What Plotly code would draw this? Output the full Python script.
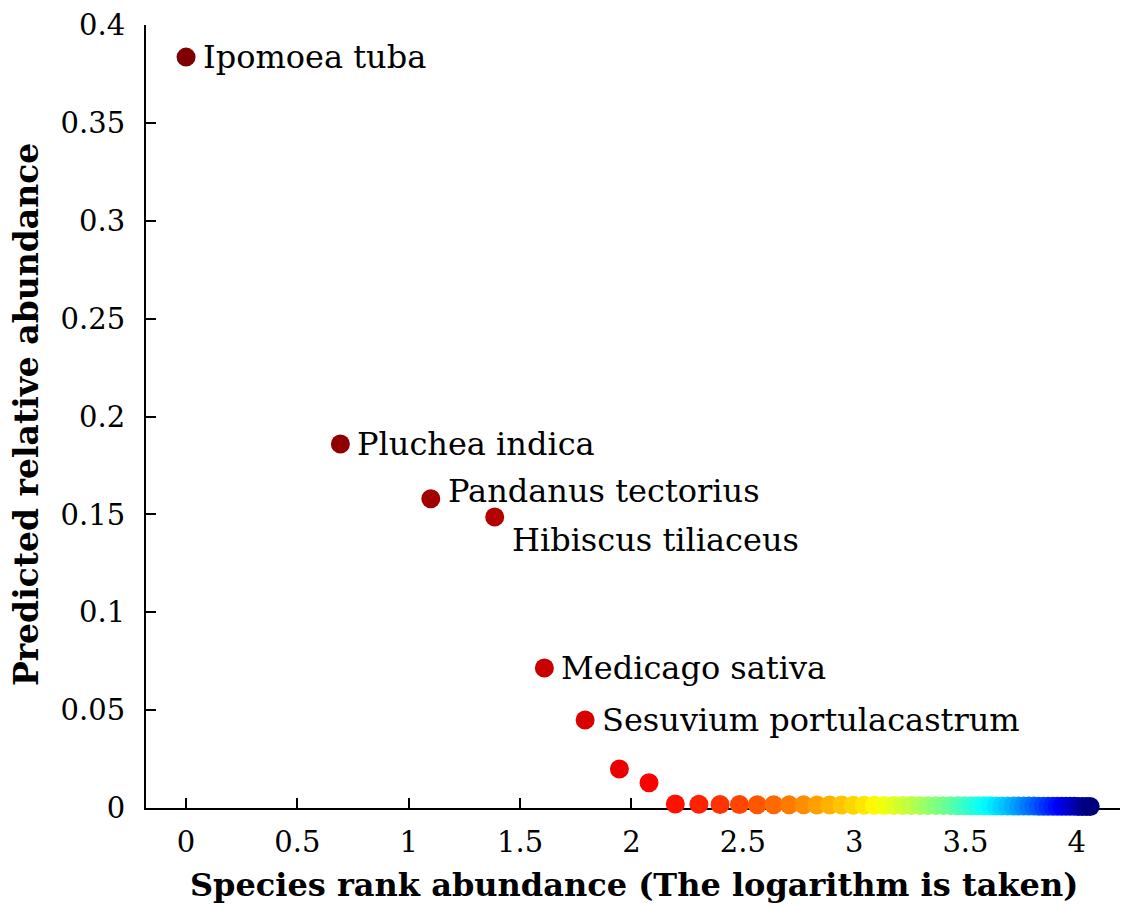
import plotly.graph_objects as go

# log(rank) for ranks 1..58
log_rank = [0.000, 0.693, 1.099, 1.386, 1.609, 1.792, 1.946, 2.079, 2.197, 2.303,
            2.398, 2.485, 2.565, 2.639, 2.708, 2.773, 2.833, 2.890, 2.944, 2.996,
            3.045, 3.091, 3.135, 3.178, 3.219, 3.258, 3.296, 3.332, 3.367, 3.401,
            3.434, 3.466, 3.497, 3.526, 3.555, 3.584, 3.611, 3.638, 3.664, 3.689,
            3.714, 3.738, 3.761, 3.784, 3.807, 3.829, 3.850, 3.871, 3.892, 3.912,
            3.932, 3.951, 3.970, 3.989, 4.007, 4.025, 4.043, 4.060]
rank = list(range(1, 59))
abundance = [0.3836, 0.1860, 0.1580, 0.1487, 0.0715, 0.0450, 0.0199, 0.0129,
             0.0020, 0.0019, 0.0018, 0.0018, 0.0017, 0.0017, 0.0016, 0.0016,
             0.0015, 0.0015, 0.0015, 0.0014, 0.0014, 0.0014, 0.0013, 0.0013,
             0.0013, 0.0013, 0.0012, 0.0012, 0.0012, 0.0012, 0.0012, 0.0011,
             0.0011, 0.0011, 0.0011, 0.0011, 0.0011, 0.0010, 0.0010, 0.0010,
             0.0010, 0.0010, 0.0010, 0.0010, 0.0010, 0.0009, 0.0009, 0.0009,
             0.0009, 0.0009, 0.0009, 0.0009, 0.0009, 0.0009, 0.0008, 0.0008,
             0.0008, 0.0008]
species = ["Ipomoea tuba", "Pluchea indica", "Pandanus tectorius", "Hibiscus tiliaceus",
           "Medicago sativa", "Sesuvium portulacastrum"]
label_dy = [0, 0, 8, -23, 0, 0]

jet = [[0.0, "rgb(0,0,127)"], [0.125, "rgb(0,0,255)"], [0.375, "rgb(0,255,255)"],
       [0.625, "rgb(255,255,0)"], [0.875, "rgb(255,0,0)"], [1.0, "rgb(127,0,0)"]]

fig = go.Figure()
fig.add_trace(go.Scatter(
    x=log_rank, y=abundance, mode="markers", cliponaxis=False,
    marker=dict(size=19, color=rank, colorscale=jet, reversescale=True,
                cmin=min(rank), cmax=max(rank), line=dict(width=0)),
    showlegend=False, hoverinfo="skip"))

serif = "DejaVu Serif"
for i, name in enumerate(species):
    fig.add_annotation(x=log_rank[i], y=abundance[i], text=name, showarrow=False,
                       xanchor="left", yanchor="middle", xshift=15, yshift=label_dy[i],
                       font=dict(family=serif, size=32, color="black"))

fig.add_annotation(x=0.497, y=-0.098, xref="paper", yref="paper", showarrow=False,
                   text="<b>Species rank abundance (The logarithm is taken)</b>",
                   xanchor="center", yanchor="middle",
                   font=dict(family=serif, size=32, color="black"))
fig.add_annotation(x=-0.121, y=0.502, xref="paper", yref="paper", showarrow=False,
                   text="<b>Predicted relative abundance</b>", textangle=-90,
                   xanchor="center", yanchor="middle",
                   font=dict(family=serif, size=33, color="black"))

axis_common = dict(showgrid=False, zeroline=False, showline=True, linecolor="black",
                   linewidth=2, ticks="inside", ticklen=10, tickwidth=2, tickcolor="black",
                   tickfont=dict(family=serif, size=29, color="black"), mirror=False,
                   layer="below traces")
fig.update_xaxes(range=[-0.18, 4.23], tickvals=[0, 0.5, 1, 1.5, 2, 2.5, 3, 3.5, 4],
                 ticktext=["0", "0.5", "1", "1.5", "2", "2.5", "3", "3.5", "4"],
                 ticklabelstandoff=7, **axis_common)
fig.update_yaxes(range=[0, 0.4], tickvals=[0, 0.05, 0.1, 0.15, 0.2, 0.25, 0.3, 0.35, 0.4],
                 ticktext=["0", "0.05", "0.1", "0.15", "0.2", "0.25", "0.3", "0.35", "0.4"],
                 ticklabelstandoff=13, **axis_common)

fig.update_layout(width=1120, height=901, plot_bgcolor="white", paper_bgcolor="white",
                  margin=dict(l=138, r=0, t=17, b=101), showlegend=False)
fig.write_html("out.html")
